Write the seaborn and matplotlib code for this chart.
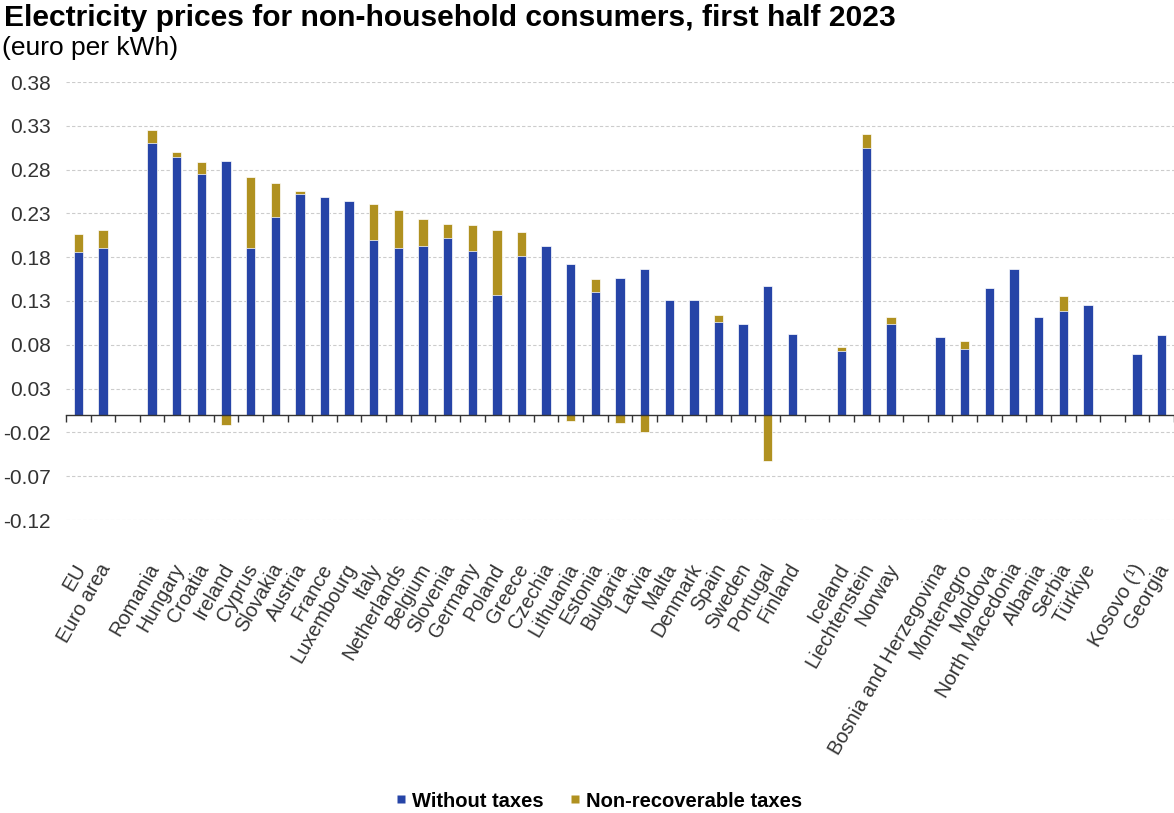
import matplotlib as mpl

mpl.use('Agg')
import numpy as np
import pandas as pd
import matplotlib.pyplot as plt
import matplotlib.transforms as mtransforms
import seaborn as sns
from matplotlib.lines import Line2D

# slots on the x axis, None = empty gap between groups
slots = ['EU', 'Euro area', None,
         'Romania', 'Hungary', 'Croatia', 'Ireland', 'Cyprus', 'Slovakia',
         'Austria', 'France', 'Luxembourg', 'Italy', 'Netherlands', 'Belgium',
         'Slovenia', 'Germany', 'Poland', 'Greece', 'Czechia', 'Lithuania',
         'Estonia', 'Bulgaria', 'Latvia', 'Malta', 'Denmark', 'Spain',
         'Sweden', 'Portugal', 'Finland', None,
         'Iceland', 'Liechtenstein', 'Norway', None,
         'Bosnia and Herzegovina', 'Montenegro', 'Moldova', 'North Macedonia',
         'Albania', 'Serbia', 'Türkiye', None,
         'Kosovo (¹)', 'Georgia']

countries = [s for s in slots if s is not None]

without_taxes = [0.186, 0.191,
                 0.310, 0.294, 0.275, 0.290, 0.190, 0.226,
                 0.252, 0.249, 0.244, 0.200, 0.190, 0.193,
                 0.202, 0.187, 0.137, 0.181, 0.193, 0.172,
                 0.140, 0.156, 0.166, 0.131, 0.131, 0.106,
                 0.104, 0.147, 0.092,
                 0.073, 0.305, 0.104,
                 0.089, 0.075, 0.145, 0.166,
                 0.112, 0.119, 0.125,
                 0.069, 0.091]

non_recoverable_taxes = [0.021, 0.020,
                         0.015, 0.006, 0.014, -0.011, 0.082, 0.039,
                         0.004, 0.000, 0.000, 0.041, 0.044, 0.031,
                         0.016, 0.030, 0.074, 0.028, 0.000, -0.007,
                         0.015, -0.009, -0.020, 0.000, 0.000, 0.008,
                         0.000, -0.053, 0.000,
                         0.004, 0.016, 0.008,
                         0.000, 0.009, 0.000, 0.000,
                         0.000, 0.017, 0.000,
                         0.000, 0.000]

yticks = [-0.12, -0.07, -0.02, 0.03, 0.08, 0.13, 0.18, 0.23, 0.28, 0.33, 0.38]

blue = '#2644A7'
gold = '#B09120'

df = pd.DataFrame({'country': countries,
                   'without': without_taxes,
                   'tax': non_recoverable_taxes})
# positive taxes sit on top of the blue bar, negative ones hang below zero
df['tax_layer'] = np.where(df['tax'] > 0, df['without'] + df['tax'],
                           np.where(df['tax'] < 0, df['tax'], np.nan))

order = [s if s is not None else 'gap%d' % i for i, s in enumerate(slots)]
labels = [s if s is not None else '' for s in slots]

plt.rcParams['font.family'] = ['Liberation Sans', 'DejaVu Sans']

fig = plt.figure(figsize=(11.74, 8.13), dpi=100)
ax = fig.add_axes([66 / 1174, 293 / 813, 1 - 66 / 1174, (731 - 293) / 813])

sns.barplot(data=df, x='country', y='tax_layer', order=order, color=gold,
            saturation=1, width=0.38, errorbar=None, edgecolor='white',
            linewidth=0.5, ax=ax)
sns.barplot(data=df, x='country', y='without', order=order, color=blue,
            saturation=1, width=0.38, errorbar=None, edgecolor='white',
            linewidth=0.5, ax=ax)

ax.set_xlim(-0.5, len(slots) - 0.5)
ax.set_ylim(-0.12, 0.38)
ax.set_yticks(yticks)
ax.set_yticklabels(['%.2f' % v for v in yticks])
ax.yaxis.grid(True, linestyle=(0, (3, 2)), color='#cccccc', linewidth=0.8)
ax.set_axisbelow(True)
ax.set(xlabel='', ylabel='')

for side in ['left', 'right', 'top']:
    ax.spines[side].set_visible(False)
ax.spines['bottom'].set_position(('data', 0))
ax.spines['bottom'].set_color('#333333')
ax.spines['bottom'].set_linewidth(1.0)

ax.set_xticks(range(len(slots)))
ax.set_xticklabels(labels, rotation=60, ha='right', va='center',
                   rotation_mode='anchor')
ax.set_xticks(np.arange(-0.5, len(slots), 1), minor=True)
ax.tick_params(axis='x', which='major', length=0, pad=108, labelsize=14.4,
               labelcolor='#333333')
ax.tick_params(axis='x', which='minor', length=5, width=1, color='#333333')
ax.tick_params(axis='y', length=0, pad=11, labelsize=15, labelcolor='#333333')

# nudge the rotated country names a few pixels to the right
shift = mtransforms.ScaledTranslation(0.03, 0, fig.dpi_scale_trans)
for lab in ax.get_xticklabels():
    lab.set_transform(lab.get_transform() + shift)

fig.text(0.003, 0.978, 'Electricity prices for non-household consumers, first half 2023',
         fontsize=21.6, fontweight='bold', va='center', ha='left')
fig.text(0.002, 0.941, '(euro per kWh)', fontsize=19, va='center', ha='left')

handles = [Line2D([], [], marker='s', color='none', markerfacecolor=blue,
                  markeredgecolor='none', markersize=6),
           Line2D([], [], marker='s', color='none', markerfacecolor=gold,
                  markeredgecolor='none', markersize=6)]
fig.legend(handles, ['Without taxes', 'Non-recoverable taxes'], ncol=2,
           loc='center', bbox_to_anchor=(599 / 1174, 1 - 801 / 813),
           frameon=False, prop={'weight': 'bold', 'size': 14.5},
           handlelength=0.5, handletextpad=0.3, columnspacing=1.3)

plt.savefig('out.png', dpi=100)
